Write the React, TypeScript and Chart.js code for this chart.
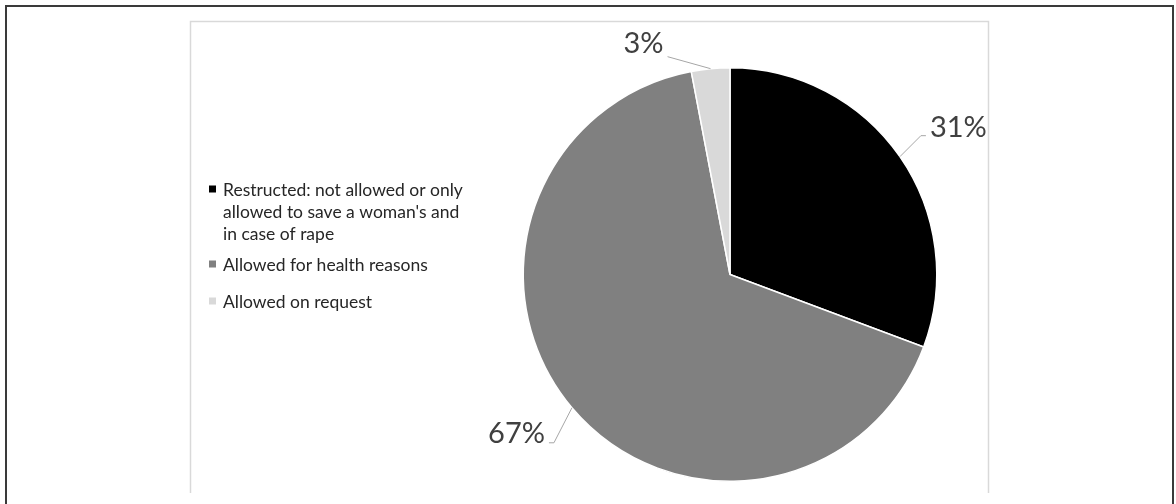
import React, { useEffect, useRef } from "react";
import { Chart, registerables } from "chart.js";

Chart.register(...registerables);

// ---- data ----
const categories: (string | string[])[] = [
  ["Restructed: not allowed or only", "allowed to save a woman's and", "in case of rape"],
  "Allowed for health reasons",
  "Allowed on request",
];
const shares: number[] = [30.7, 66.3, 3.0];
const shareLabels: string[] = ["31%", "67%", "3%"];

// ---- style ----
const sliceColors = ["#000000", "#808080", "#d9d9d9"];
const FONT = "Lato, 'Open Sans', sans-serif";
const TEXT_COLOR = "#404040";
// label leader layout: elbow offset from slice edge, tail length, side
const leaderStyle = [
  { dx: 21, dy: -21, tail: 5, side: "right", lift: -1 },
  { dx: -18, dy: 35, tail: 5, side: "left", lift: 0 },
  { dx: -43, dy: -12, tail: 0, side: "left", lift: 4 },
];
const legendLayout = { squareX: 209, squareSize: 7, textX: 223, lineHeight: 22, itemCenters: [189, 264, 301] };

const framePlugin = {
  id: "frame",
  beforeDraw(chart: any) {
    const ctx = chart.ctx;
    ctx.save();
    // outer dark border
    ctx.strokeStyle = "#3a3a3a";
    ctx.lineWidth = 2;
    ctx.beginPath();
    ctx.moveTo(6, 504);
    ctx.lineTo(6, 6);
    ctx.lineTo(1173, 6);
    ctx.lineTo(1173, 504);
    ctx.stroke();
    // inner light frame
    ctx.strokeStyle = "#d9d9d9";
    ctx.lineWidth = 1.5;
    ctx.beginPath();
    ctx.moveTo(190.5, 493);
    ctx.lineTo(190.5, 21.5);
    ctx.lineTo(988.5, 21.5);
    ctx.lineTo(988.5, 493);
    ctx.stroke();
    ctx.restore();
  },
};

const labelsPlugin = {
  id: "pieLabels",
  afterDraw(chart: any) {
    const ctx = chart.ctx;
    const meta = chart.getDatasetMeta(0);
    ctx.save();
    meta.data.forEach((arc: any, i: number) => {
      const { x, y, startAngle, endAngle, outerRadius } = arc.getProps(
        ["x", "y", "startAngle", "endAngle", "outerRadius"],
        true
      );
      const mid = (startAngle + endAngle) / 2;
      const ex = x + Math.cos(mid) * outerRadius;
      const ey = y + Math.sin(mid) * outerRadius;
      const st = leaderStyle[i];
      const bx = ex + st.dx;
      const by = ey + st.dy;
      const tx = st.side === "right" ? bx + st.tail : bx - st.tail;
      ctx.strokeStyle = "#a6a6a6";
      ctx.lineWidth = 1;
      ctx.beginPath();
      ctx.moveTo(ex, ey);
      ctx.lineTo(bx, by);
      ctx.lineTo(tx, by);
      ctx.stroke();
      ctx.fillStyle = TEXT_COLOR;
      ctx.font = `29px ${FONT}`;
      ctx.textBaseline = "alphabetic";
      ctx.textAlign = st.side === "right" ? "left" : "right";
      const gx = st.side === "right" ? tx + 4 : tx - 4;
      ctx.fillText(shareLabels[i], gx, by - st.lift);
    });
    // legend
    ctx.font = `17.5px ${FONT}`;
    ctx.textAlign = "left";
    ctx.textBaseline = "middle";
    categories.forEach((c, i) => {
      const lines = Array.isArray(c) ? c : [c];
      const cy = legendLayout.itemCenters[i];
      ctx.fillStyle = sliceColors[i];
      ctx.fillRect(
        legendLayout.squareX,
        cy - legendLayout.squareSize / 2,
        legendLayout.squareSize,
        legendLayout.squareSize
      );
      ctx.fillStyle = "#262626";
      lines.forEach((ln, j) => {
        ctx.fillText(ln, legendLayout.textX, cy + j * legendLayout.lineHeight + 1);
      });
    });
    ctx.restore();
  },
};

export default function App() {
  const ref = useRef<HTMLCanvasElement>(null);
  useEffect(() => {
    if (!ref.current) return;
    const chart = new Chart(ref.current, {
      type: "pie",
      data: {
        labels: categories as any,
        datasets: [
          {
            data: shares,
            backgroundColor: sliceColors,
            borderColor: "#ffffff",
            borderWidth: 1.5,
            hoverOffset: 0,
            offset: 0,
          },
        ],
      },
      options: {
        animation: false,
        responsive: false,
        events: [],
        layout: { padding: { left: 522, right: 238, top: 67, bottom: 22 } },
        plugins: {
          legend: { display: false },
          tooltip: { enabled: false },
        },
      },
      plugins: [framePlugin, labelsPlugin],
    });
    return () => chart.destroy();
  }, []);
  return (
    <div style={{ position: "fixed", left: 0, top: 0, width: 1176, height: 504, background: "#fff" }}>
      <canvas ref={ref} width={1176} height={504} style={{ display: "block" }} />
    </div>
  );
}
